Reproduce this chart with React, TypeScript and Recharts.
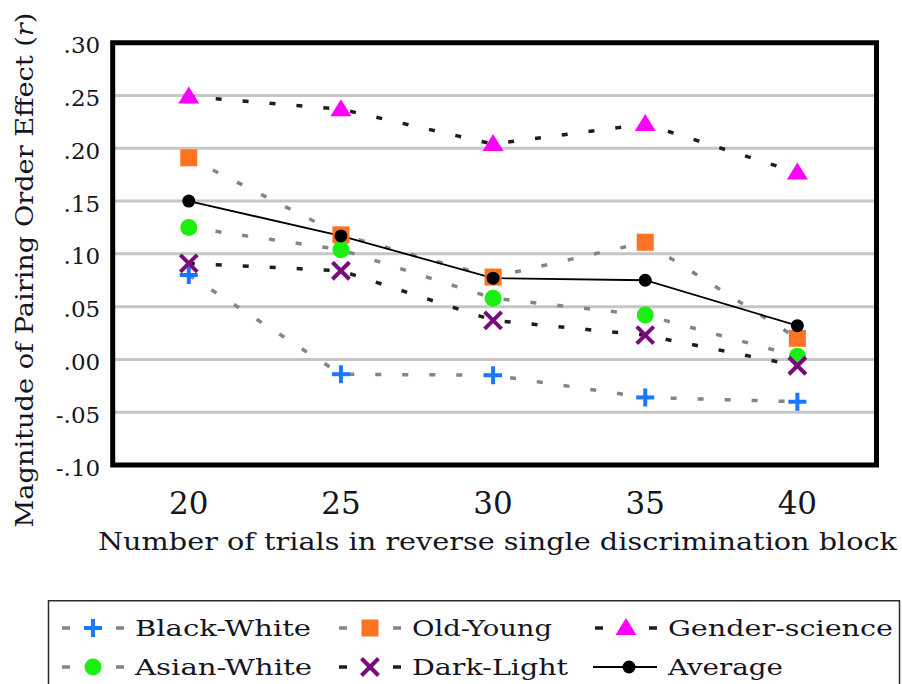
import { LineChart, Line, XAxis, YAxis, CartesianGrid, ReferenceArea } from 'recharts';

const trials = [20, 25, 30, 35, 40];
const blackWhite = [0.08, -0.014, -0.015, -0.036, -0.04];
const oldYoung = [0.191, 0.118, 0.078, 0.111, 0.02];
const genderScience = [0.249, 0.237, 0.204, 0.223, 0.177];
const asianWhite = [0.125, 0.104, 0.058, 0.042, 0.003];
const darkLight = [0.091, 0.084, 0.037, 0.023, -0.006];
const average = [0.15, 0.117, 0.077, 0.075, 0.032];

const yTicks = [-0.1, -0.05, 0, 0.05, 0.1, 0.15, 0.2, 0.25, 0.3];
const xTicks = [20, 25, 30, 35, 40];

const FONT = '"DejaVu Serif", serif';
const TEXT = '#15151f';
const GRAY = '#858585';
const DARK = '#1e1e1e';

const data = trials.map((t, i) => ({
  trials: t,
  blackWhite: blackWhite[i],
  oldYoung: oldYoung[i],
  genderScience: genderScience[i],
  asianWhite: asianWhite[i],
  darkLight: darkLight[i],
  average: average[i],
}));

// marker shapes
const PlusMark = ({ cx, cy }: any) => (
  <g stroke="#1a78ff" strokeWidth={4}>
    <line x1={cx - 9} y1={cy} x2={cx + 9} y2={cy} />
    <line x1={cx} y1={cy - 9} x2={cx} y2={cy + 9} />
  </g>
);
const SquareMark = ({ cx, cy }: any) => (
  <rect x={cx - 8.5} y={cy - 8.5} width={17} height={17} fill="#ff7322" />
);
const TriangleMark = ({ cx, cy }: any) => (
  <polygon points={`${cx},${cy - 10} ${cx - 10.5},${cy + 7} ${cx + 10.5},${cy + 7}`} fill="#ff00ff" />
);
const CircleMark = ({ cx, cy }: any) => <circle cx={cx} cy={cy} r={8.5} fill="#1dee12" />;
const XMark = ({ cx, cy }: any) => (
  <g stroke="#790c7c" strokeWidth={4}>
    <line x1={cx - 8.5} y1={cy - 8.5} x2={cx + 8.5} y2={cy + 8.5} />
    <line x1={cx - 8.5} y1={cy + 8.5} x2={cx + 8.5} y2={cy - 8.5} />
  </g>
);
const AvgMark = ({ cx, cy }: any) => <circle cx={cx} cy={cy} r={6.5} fill="#000" />;

const series = [
  { key: 'blackWhite', name: 'Black-White', color: GRAY, Mark: PlusMark },
  { key: 'oldYoung', name: 'Old-Young', color: GRAY, Mark: SquareMark },
  { key: 'genderScience', name: 'Gender-science', color: DARK, Mark: TriangleMark },
  { key: 'asianWhite', name: 'Asian-White', color: GRAY, Mark: CircleMark },
  { key: 'darkLight', name: 'Dark-Light', color: DARK, Mark: XMark },
];

const fmtY = (v: number) => v.toFixed(2).replace('0.', '.');

const YTick = ({ x, y, payload }: any) => (
  <text x={x - 12.5} y={y + 10.5} textAnchor="end" fontSize={23} fontFamily={FONT} fill={TEXT}>
    {fmtY(payload.value)}
  </text>
);

const XTick = ({ x, y, payload }: any) => (
  <text x={x} y={y + 49} textAnchor="middle" fontSize={31} fontFamily={FONT} fill={TEXT}>
    {payload.value}
  </text>
);

const YTitle = () => (
  <text
    x={33}
    y={270}
    transform="rotate(-90 33 270)"
    textAnchor="middle"
    fontSize={24}
    fontFamily={FONT}
    fill={TEXT}
    textLength={515}
    lengthAdjust="spacingAndGlyphs"
  >
    Magnitude of Pairing Order Effect (<tspan fontStyle="italic">r</tspan>)
  </text>
);

const XTitle = () => (
  <text
    x={497.5}
    y={550}
    textAnchor="middle"
    fontSize={24}
    fontFamily={FONT}
    fill={TEXT}
    textLength={799}
    lengthAdjust="spacingAndGlyphs"
  >
    Number of trials in reverse single discrimination block
  </text>
);

// legend placement (columns / rows) and label widths
const legendCols = [65, 342, 598];
const legendRows = [628, 667];
const legendOrder = ['blackWhite', 'oldYoung', 'genderScience', 'asianWhite', 'darkLight', 'average'];
const labelWidth: Record<string, number> = {
  blackWhite: 176,
  oldYoung: 140,
  genderScience: 225,
  asianWhite: 177,
  darkLight: 156,
  average: 115,
};

const ChartLegend = () => (
  <svg width={902} height={84} style={{ position: 'absolute', left: 0, top: 600 }}>
    <rect x={48.5} y={0.75} width={851} height={100} fill="none" stroke="#2a2a2a" strokeWidth={1.5} />
    {legendOrder.map((k, i) => {
      const col = legendCols[i % 3];
      const cy = legendRows[Math.floor(i / 3)] - 600;
      const s = series.find((d) => d.key === k);
      const name = s ? s.name : 'Average';
      const textX = col + 70;
      return (
        <g key={k}>
          {s ? (
            <>
              <line x1={col - 3} y1={cy} x2={col + 5} y2={cy} stroke={s.color} strokeWidth={3.5} />
              <line x1={col + 51} y1={cy} x2={col + 59} y2={cy} stroke={s.color} strokeWidth={3.5} />
              <s.Mark cx={col + 28} cy={cy} />
            </>
          ) : (
            <>
              <line x1={col - 5} y1={cy} x2={col + 59} y2={cy} stroke="#000" strokeWidth={1.8} />
              <AvgMark cx={col + 31} cy={cy} />
            </>
          )}
          <text
            x={textX}
            y={cy + 8}
            fontSize={22}
            fontFamily={FONT}
            fill={TEXT}
            textLength={labelWidth[k]}
            lengthAdjust="spacingAndGlyphs"
          >
            {name}
          </text>
        </g>
      );
    })}
  </svg>
);

export default function App() {
  return (
    <div style={{ position: 'absolute', left: 0, top: 0, width: 902, height: 684, background: '#fff', overflow: 'hidden' }}>
      <LineChart
        width={902}
        height={590}
        data={data}
        margin={{ top: 42.7, right: 25.5, bottom: 0, left: 0 }}
      >
        <CartesianGrid vertical={false} stroke="#c6c6c6" strokeWidth={3} />
        <XAxis
          dataKey="trials"
          type="number"
          domain={[17.5, 42.6]}
          ticks={xTicks}
          allowDataOverflow
          height={125}
          axisLine={false}
          tickLine={false}
          tickSize={0}
          tickMargin={0}
          tick={<XTick />}
          label={<XTitle />}
        />
        <YAxis
          type="number"
          domain={[-0.1, 0.3]}
          ticks={yTicks}
          allowDataOverflow
          width={112.7}
          axisLine={false}
          tickLine={false}
          tickSize={0}
          tickMargin={0}
          tick={<YTick />}
          label={<YTitle />}
        />
        <ReferenceArea
          x1={17.5}
          x2={42.6}
          y1={-0.1}
          y2={0.3}
          fill="none"
          stroke="#000"
          strokeWidth={5}
          ifOverflow="visible"
        />
        {series.map((s) => (
          <Line
            key={s.key}
            dataKey={s.key}
            name={s.name}
            stroke={s.color}
            strokeWidth={3.5}
            strokeDasharray="6 21"
            isAnimationActive={false}
            activeDot={false}
            dot={(p: any) => <s.Mark key={`${s.key}-${p.index}`} cx={p.cx} cy={p.cy} />}
          />
        ))}
        <Line
          dataKey="average"
          name="Average"
          stroke="#000"
          strokeWidth={1.8}
          isAnimationActive={false}
          activeDot={false}
          dot={(p: any) => <AvgMark key={`avg-${p.index}`} cx={p.cx} cy={p.cy} />}
        />
      </LineChart>
      <ChartLegend />
    </div>
  );
}
